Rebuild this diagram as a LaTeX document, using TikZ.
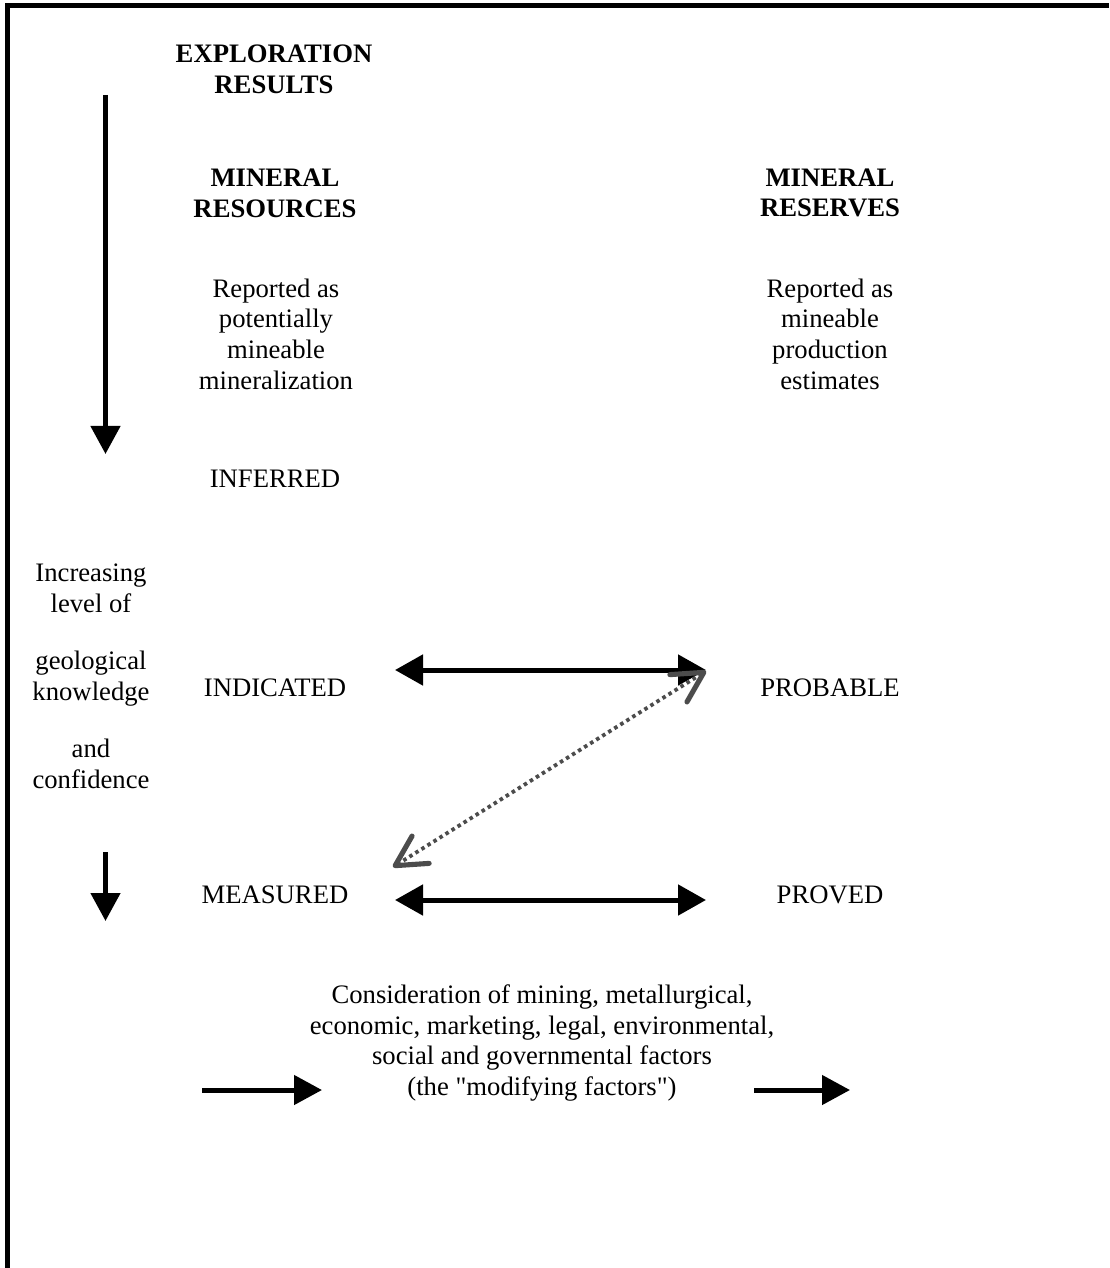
\documentclass[tikz,border=0pt]{standalone}
\usepackage{fontspec}
\setmainfont{Liberation Serif}[Ligatures=TeXOff]
\usetikzlibrary{arrows.meta}
\tikzset {
    style T/.style={
        font=\fontsize{12pt}{13.8pt}\selectfont,
        align=center,
        inner sep=0pt, % Text only, no frame
    },
    style H/.style={
        font=\fontsize{12pt}{13.8pt}\selectfont\bfseries,
        align=center,
        inner sep=0pt,
    },
    style A/.style={
        draw=black,
        line width=2.25pt,
        -{Triangle[length=12.6pt,width=13pt]},
    },
    style B/.style={
        draw=black,
        line width=2.25pt,
        {Triangle[length=12.6pt,width=13.5pt]}-{Triangle[length=12.6pt,width=13.5pt]},
    },
    style C/.style={
        draw=black!70,
        line width=1.7pt,
        dash pattern=on 1.6pt off 1.6pt,
        {Straight Barb[length=13.5pt,width=14.5pt,line width=2.3pt,round]}-{Straight Barb[length=13.5pt,width=14.5pt,line width=2.3pt,round]},
    },
}

\begin{document}
\begin{tikzpicture}[x=0.45pt,y=-0.45pt]
        \useasboundingbox (0,0) rectangle (1109,1268);

        % frame, top and left side only
        \draw[line width=2pt] (1109,5.3) -- (7.5,5.3) -- (7.5,1268);

        % column heads
        \node[style H] (expl) at (274,69) {EXPLORATION\\RESULTS};
        \node[style H] (res) at (275,193) {MINERAL\\RESOURCES};
        \node[style H] (rsv) at (830,193) {MINERAL\\RESERVES};

        \node[style T] (resTxt) at (276,334) {Reported as\\potentially\\mineable\\mineralization};
        \node[style T] (rsvTxt) at (830,334) {Reported as\\mineable\\production\\estimates};

        % categories
        \node[style T] (inf) at (275,479) {INFERRED};
        \node[style T] (ind) at (275,688) {INDICATED};
        \node[style T] (prob) at (830,688) {PROBABLE};
        \node[style T] (meas) at (275,895) {MEASURED};
        \node[style T] (prov) at (830,895) {PROVED};

        \node[style T] (know) at (91,676) {Increasing\\level of\\[12pt]geological\\knowledge\\[12pt]and\\confidence};

        \node[style T] (mod) at (542,1043) {Consideration of mining, metallurgical,\\economic, marketing, legal, environmental,\\social and governmental factors\\(the "modifying factors")};

        % arrow ends
        \coordinate (k1) at (105.5,95);
        \coordinate (k2) at (105.5,454);
        \coordinate (k3) at (105.5,852);
        \coordinate (k4) at (105.5,921);
        \coordinate (ind r) at (395,670);
        \coordinate (prob l) at (706,670);
        \coordinate (meas r) at (395,900);
        \coordinate (prov l) at (706,900);
        \coordinate (ind x) at (393,867);
        \coordinate (prob x) at (706,671);
        \coordinate (m1) at (202,1090);
        \coordinate (m2) at (322,1090);
        \coordinate (m3) at (754,1090);
        \coordinate (m4) at (850,1090);

        \draw[style A] (k1) -- (k2);
        \draw[style A] (k3) -- (k4);
        \draw[style B] (ind r) -- (prob l);
        \draw[style B] (meas r) -- (prov l);
        \draw[style C] (ind x) -- (prob x);
        \draw[style A] (m1) -- (m2);
        \draw[style A] (m3) -- (m4);
\end{tikzpicture}
\end{document}
